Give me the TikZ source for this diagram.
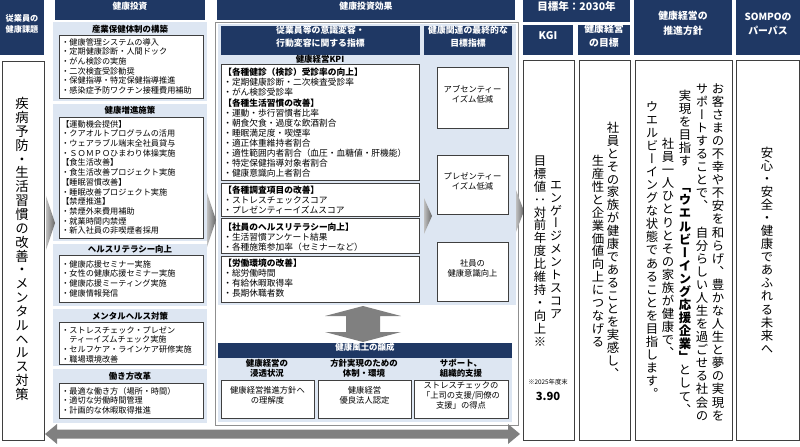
\documentclass[tikz,border=0pt]{standalone}
\usepackage{fontspec}
\setmainfont{Noto Sans CJK JP}
\newfontfamily\tatefont[RawFeature=+vert]{Noto Sans CJK JP}
\usetikzlibrary{calc,fit}

\definecolor{navy}{HTML}{1F3864}
\definecolor{paleblue}{HTML}{DDE6F2}
\definecolor{boxline}{HTML}{3F3F3F}
\definecolor{framegray}{HTML}{8F8F8F}

\ExplSyntaxOn
\NewDocumentCommand\tatechars{m}{\tl_map_inline:nn{#1}{\hbox_to_wd:nn{1em}{\hss##1\hss}}}
\ExplSyntaxOff
\newcommand\tate[3]{\vbox{\tatefont\fontsize{#1}{#2}\selectfont\lineskiplimit=-\maxdimen #3}}

\tikzset{
  hdr/.style={fill=navy, text=white, inner sep=0pt, align=center, font=\bfseries\fontsize{6.2}{9}\selectfont},
  cell/.style={draw=boxline, fill=white, inner sep=0pt, line width=0.7pt},
  panel/.style={fill=paleblue},
  lbl/.style={align=center, font=\bfseries\fontsize{6}{7.2}\selectfont},
  items/.style={anchor=north west, inner sep=0pt, align=left, font=\fontsize{5.8}{6.9}\selectfont},
  kpi/.style={anchor=north west, inner sep=0pt, align=left, font=\fontsize{6.2}{7.15}\selectfont},
  note/.style={align=center, font=\fontsize{5.9}{7.2}\selectfont},
  chev/.style={left color=black!25, right color=black!60},
}

\begin{document}
\begin{tikzpicture}[x=0.025cm, y=-0.025cm]
\useasboundingbox (0,0) rectangle (800,446);

% headers
\node[hdr, font=\bfseries\fontsize{5.8}{7.5}\selectfont, fit={(0,0) (44,55)}] (hIssue) {従業員の\\健康課題};
\node[hdr, fit={(55,0) (205,20)}] (hInvest) {健康投資};
\node[hdr, font=\bfseries\fontsize{6.3}{9}\selectfont, fit={(217,0) (515,20)}] (hEffect) {健康投資効果};
\node[hdr, font=\bfseries\fontsize{7.5}{9}\selectfont, fit={(523,0) (630,22)}] (hYear) {目標年：2030年};
\node[hdr, font=\bfseries\fontsize{7.5}{9}\selectfont, fit={(523,25) (573,55)}] (hKgi) {KGI};
\node[hdr, font=\bfseries\fontsize{7}{10}\selectfont, fit={(578,25) (630,55)}] (hGoal) {健康経営\\の目標};
\node[hdr, font=\bfseries\fontsize{7}{11}\selectfont, fit={(634,0) (732,55)}] (hPolicy) {健康経営の\\推進方針};
\node[hdr, font=\bfseries\fontsize{7}{10}\selectfont, fit={(736,0) (800,55)}] (hPurpose) {SOMPOの\\パーパス};

% column 1
\node[cell, fit={(2,61) (44,440)}] (issue) {};
\node[inner sep=0pt] (issueTxt) at (22,249) {\tate{9.5}{9.85}{\tatechars{疾病予防・生活習慣の改善・メンタルヘルス対策}}};

% column 2: health investment
\foreach \ya/\yb in {22/101, 104/241, 244/306, 309/366, 369/423}
  \fill[panel] (53,\ya) rectangle (207,\yb);
\node[lbl] (lOrg) at (130,29) {産業保健体制の構築};
\node[lbl] (lPromo) at (130,110) {健康増進施策};
\node[lbl] (lLit) at (130,249) {ヘルスリテラシー向上};
\node[lbl] (lMental) at (130,316) {メンタルヘルス対策};
\node[lbl] (lWork) at (130,376) {働き方改革};
\node[cell, fit={(59,35) (203,98)}] (bOrg) {};
\node[cell, fit={(59,117) (203,238)}] (bPromo) {};
\node[cell, fit={(59,255) (203,302)}] (bLit) {};
\node[cell, fit={(59,322) (203,364)}] (bMental) {};
\node[cell, fit={(59,383) (203,418)}] (bWork) {};
\node[items] (tOrg) at (61,38) {・健康管理システムの導入\\・定期健康診断・人間ドック\\・がん検診の実施\\・二次検査受診勧奨\\・保健指導・特定保健指導推進\\・感染症予防ワクチン接種費用補助};
\node[items] (tPromo) at (61,120) {【運動機会提供】\\・クアオルトプログラムの活用\\・ウェアラブル端末全社員貸与\\・ＳＯＭＰＯひまわり体操実施\\【食生活改善】\\・食生活改善プロジェクト実施\\【睡眠習慣改善】\\・睡眠改善プロジェクト実施\\【禁煙推進】\\・禁煙外来費用補助\\・就業時間内禁煙\\・新入社員の非喫煙者採用};
\node[items] (tLit) at (61,260) {・健康応援セミナー実施\\・女性の健康応援セミナー実施\\・健康応援ミーティング実施\\・健康情報発信};
\node[items] (tMental) at (61,326) {・ストレスチェック・プレゼン\\　ティーイズムチェック実施\\・セルフケア・ラインケア研修実施\\・職場環境改善};
\node[items] (tWork) at (61,387) {・最適な働き方（場所・時間）\\・適切な労働時間管理\\・計画的な休暇取得推進};

% column 3: effects
\draw[framegray, line width=0.6pt, fill=white] (215,22) rectangle (518,425);
\fill[panel] (218,24) rectangle (516,305);
\node[hdr, font=\bfseries\fontsize{6.3}{8.6}\selectfont, fit={(221,26) (420,55)}] (hAware) {従業員等の意識変容・\\行動変容に関する指標};
\node[hdr, font=\bfseries\fontsize{6.3}{9.8}\selectfont, fit={(424,26) (512,55)}] (hFinal) {健康関連の最終的な\\目標指標};
\node[lbl] (lKpi) at (320,59) {健康経営KPI};
\node[cell, fit={(221,64) (419,180)}] (kpiA) {};
\node[cell, fit={(221,183) (419,216)}] (kpiB) {};
\node[cell, fit={(221,218) (419,253)}] (kpiC) {};
\node[cell, fit={(221,256) (419,302)}] (kpiD) {};
\node[kpi] (tKpiA) at (223,68) {\textbf{【各種健診（検診）受診率の向上】}\\・定期健康診断・二次検査受診率\\・がん検診受診率\\\textbf{【各種生活習慣の改善】}\\・運動・歩行習慣者比率\\・朝食欠食・過度な飲酒割合\\・睡眠満足度・喫煙率\\・適正体重維持者割合\\・適性範囲内者割合（血圧・血糖値・肝機能）\\・特定保健指導対象者割合\\・健康意識向上者割合};
\node[kpi] (tKpiB) at (223,186) {\textbf{【各種調査項目の改善】}\\・ストレスチェックスコア\\・プレゼンティーイズムスコア};
\node[kpi] (tKpiC) at (223,223) {\textbf{【社員のヘルスリテラシー向上】}\\・生活習慣アンケート結果\\・各種施策参加率（セミナーなど）};
\node[kpi] (tKpiD) at (223,259) {\textbf{【労働環境の改善】}\\・総労働時間\\・有給休暇取得率\\・長期休職者数};
\node[cell, note, fit={(437,67) (508,128)}] (fAbs) {アブセンティー\\イズム低減};
\node[cell, note, fit={(437,155) (508,214)}] (fPre) {プレゼンティー\\イズム低減};
\node[cell, note, fit={(437,242) (508,301)}] (fAware) {社員の\\健康意識向上};

% up-down arrow
\fill[black!50] (363,306) -- (401,316) -- (380,316) -- (380,332) -- (401,332)
  -- (363,342) -- (325,332) -- (346,332) -- (346,316) -- (325,316) -- cycle;

% culture
\node[hdr, font=\bfseries\fontsize{6}{8}\selectfont, fit={(218,343) (512,358)}] (hCulture) {健康風土の醸成};
\fill[panel] (218,358) rectangle (512,422);
\node[lbl] (lSpread) at (267,368) {健康経営の\\浸透状況};
\node[lbl] (lSystem) at (364,368) {方針実現のための\\体制・環境};
\node[lbl] (lSupport) at (461,368) {サポート、\\組織的支援};
\node[cell, note, fit={(221,380) (314,418)}] (cSpread) {健康経営推進方針へ\\の理解度};
\node[cell, note, fit={(318,380) (411,418)}] (cSystem) {健康経営\\優良法人認定};
\node[cell, note, fit={(414,380) (508,418)}] (cSupport) {ストレスチェックの\\「上司の支援/同僚の\\支援」の得点};

% chevrons
\shade[chev] (46,196) -- (55,223) -- (46,250) -- cycle;
\shade[chev] (207,193) -- (216,220) -- (207,247) -- cycle;
\shade[chev] (424,198) -- (432,216) -- (424,234) -- cycle;
\shade[chev] (516,190) -- (524,211) -- (516,232) -- cycle;

% bottom double arrow
\fill[black!50] (45,434) -- (57,424) -- (57,429.5) -- (508,429.5) -- (508,424)
  -- (520,434) -- (508,444) -- (508,438.5) -- (57,438.5) -- (57,444) -- cycle;

% KGI and goal
\node[cell, fit={(523,60) (574,440)}] (kgi) {};
\node[cell, fit={(579,60) (630,440)}] (goal) {};
\node[inner sep=0pt] (kgiA) at (556,250) {\tate{8.8}{9.2}{\tatechars{エンゲージメントスコア}}};
\node[inner sep=0pt] (kgiB) at (540,251) {\tate{8.8}{9.2}{\tatechars{目標値：対前年度比維持・向上※}}};
\node[font=\fontsize{4.5}{5}\selectfont, inner sep=0pt] (kgiNote) at (548,382) {※2025年度末};
\node[font=\bfseries\fontsize{8}{9}\selectfont, inner sep=0pt] (kgiVal) at (548,396) {3.90};
\node[inner sep=0pt] (goalA) at (613,250) {\tate{8.8}{9.2}{\tatechars{社員とその家族が健康であることを実感し、}}};
\node[inner sep=0pt] (goalB) at (598,251) {\tate{8.8}{9.2}{\tatechars{生産性と企業価値向上につなげる}}};

% policy and purpose
\node[cell, fit={(635,60) (732,440)}] (policy) {};
\node[cell, fit={(736,60) (799,440)}] (purpose) {};
\node[inner sep=0pt] (polA) at (718,252) {\tate{8.8}{9.3}{\tatechars{お客さまの不幸や不安を和らげ、豊かな人生と夢の実現を}}};
\node[inner sep=0pt] (polB) at (702,252) {\tate{8.8}{9.3}{\tatechars{サポートすることで、　自分らしい人生を過ごせる社会の}}};
\node[inner sep=0pt] (polC) at (685,252) {\tate{8.8}{9.3}{\tatechars{実現を目指す　}{\bfseries\tatechars{「ウエルビーイング応援企業」}}\tatechars{として、}}};
\node[inner sep=0pt] (polD) at (668,248) {\tate{8.8}{9.3}{\tatechars{社員一人ひとりとその家族が健康で、}}};
\node[inner sep=0pt] (polE) at (652,250) {\tate{8.8}{9.3}{\tatechars{ウエルビーイングな状態であることを目指します。}}};
\node[inner sep=0pt] (purTxt) at (767,250) {\tate{8.8}{9.3}{\tatechars{安心・安全・健康であふれる未来へ}}};
\end{tikzpicture}
\end{document}
